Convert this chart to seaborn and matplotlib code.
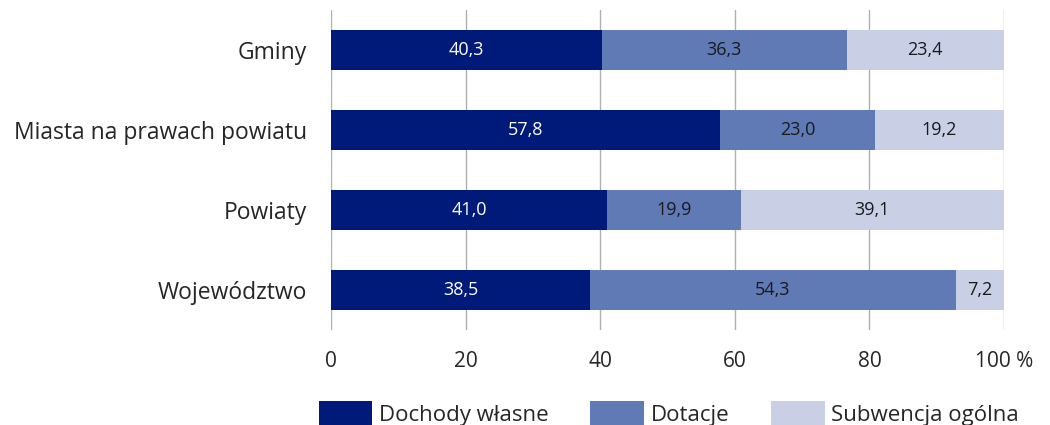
import numpy as np
import pandas as pd
import matplotlib
matplotlib.use('Agg')
import matplotlib.pyplot as plt
import seaborn as sns
from matplotlib.patches import Patch

categories = ["Gminy", "Miasta na prawach powiatu", "Powiaty", "Województwo"]
dochody = [40.3, 57.8, 41.0, 38.5]
dotacje = [36.3, 23.0, 19.9, 54.3]
subwencja = [23.4, 19.2, 39.1, 7.2]
series_names = ["Dochody własne", "Dotacje", "Subwencja ogólna"]
colors = ["#001a7a", "#5f7ab5", "#c9d0e6"]
text_colors = ["white", "#1a1a1a", "#1a1a1a"]
xticks = [0, 20, 40, 60, 80, 100]
xtick_labels = ["0", "20", "40", "60", "80", "100 %"]

sns.set_style("white")
plt.rcParams['font.family'] = ['Open Sans', 'DejaVu Sans']

df = pd.DataFrame({"cat": categories, "d": dochody, "t": dotacje, "s": subwencja})
df["c1"] = df["d"]
df["c2"] = df["d"] + df["t"]
df["c3"] = df["d"] + df["t"] + df["s"]

fig = plt.figure(figsize=(10.5, 4.25), dpi=100)
ax = fig.add_axes([0.3152, 0.2235, 0.641, 0.7530])

# stacked bars drawn as overlapping cumulative totals
for col, color in zip(["c3", "c2", "c1"], colors[::-1]):
	sns.barplot(data=df, x=col, y="cat", color=color, width=0.5, ax=ax,
		edgecolor="none", saturation=1, zorder=3)

# value labels centred in each segment
for i, row in df.iterrows():
	lefts = [0, row["c1"], row["c2"]]
	vals = [row["d"], row["t"], row["s"]]
	for left, v, tc in zip(lefts, vals, text_colors):
		ax.text(left + v / 2, i, f"{v:.1f}".replace(".", ","), ha="center", va="center",
			color=tc, fontsize=13, zorder=4)

ax.set_xlim(0, 100)
ax.set_ylim(3.5, -0.5)
ax.set_xticks(xticks)
ax.set_xticklabels(xtick_labels, fontsize=15)
ax.tick_params(axis="y", labelsize=16.5, length=0, pad=17)
ax.tick_params(axis="x", length=0, pad=15)
ax.set_xlabel("")
ax.set_ylabel("")
for sp in ax.spines.values():
	sp.set_visible(False)
ax.xaxis.grid(True, color="#b0b0b0", linewidth=1)
ax.set_axisbelow(True)

handles = [Patch(facecolor=c, edgecolor="none") for c in colors]
fig.legend(handles, series_names, loc="lower center", bbox_to_anchor=(0.637, -0.05),
	ncol=3, frameon=False, fontsize=16, handlelength=2.4, handleheight=1.4,
	handletextpad=0.3, columnspacing=1.9)

plt.savefig("out.png", dpi=100)
plt.close()
